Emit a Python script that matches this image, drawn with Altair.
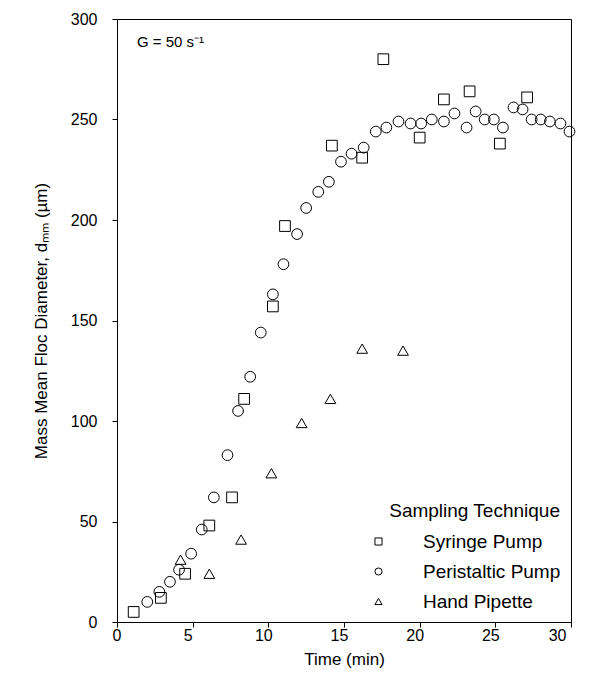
import altair as alt
import pandas as pd

# Syringe Pump (squares)
syr_t = [1.1, 2.9, 4.5, 6.1, 7.6, 8.4, 10.3, 11.1, 14.2, 16.2, 17.6, 20.0, 21.6, 23.3, 25.3, 27.1]
syr_d = [5, 12, 24, 48, 62, 111, 157, 197, 237, 231, 280, 241, 260, 264, 238, 261]

# Peristaltic Pump (circles)
per_t = [2.0, 2.8, 3.5, 4.1, 4.9, 5.6, 6.4, 7.3, 8.0, 8.8, 9.5, 10.3, 11.0, 11.9, 12.5,
         13.3, 14.0, 14.8, 15.5, 16.3, 17.1, 17.8, 18.6, 19.4, 20.1, 20.8, 21.6, 22.3,
         23.1, 23.7, 24.3, 24.9, 25.5, 26.2, 26.8, 27.4, 28.0, 28.6, 29.3, 29.9]
per_d = [10, 15, 20, 26, 34, 46, 62, 83, 105, 122, 144, 163, 178, 193, 206,
         214, 219, 229, 233, 236, 244, 246, 249, 248, 248, 250, 249, 253,
         246, 254, 250, 250, 246, 256, 255, 250, 250, 249, 248, 244]

# Hand Pipette (triangles)
pip_t = [4.2, 6.1, 8.2, 10.2, 12.2, 14.1, 16.2, 18.9]
pip_d = [31, 24, 41, 74, 99, 111, 136, 135]

techniques = ["Syringe Pump", "Peristaltic Pump", "Hand Pipette"]
shapes = ["square", "circle", "triangle-up"]
annotation = ["G = 50 s\u207b\u00b9"]

x_ticks = [0, 5, 10, 15, 20, 25, 30]
y_ticks = [0, 50, 100, 150, 200, 250, 300]

rows = []
for t, d in zip(syr_t, syr_d):
    rows.append({"t": t, "d": d, "tech": techniques[0]})
for t, d in zip(per_t, per_d):
    rows.append({"t": t, "d": d, "tech": techniques[1]})
for t, d in zip(pip_t, pip_d):
    rows.append({"t": t, "d": d, "tech": techniques[2]})
df = pd.DataFrame(rows)

FONT = "Liberation Sans"

points = alt.Chart(df).mark_point(filled=False, color="black", strokeWidth=1, size=115, opacity=1).encode(
    x=alt.X("t:Q", scale=alt.Scale(domain=[0, 30], nice=False),
            axis=alt.Axis(title="Time (min)", values=x_ticks, labelOffset=-5, labelPadding=0,
                          titlePadding=8, tickSize=5)),
    y=alt.Y("d:Q", scale=alt.Scale(domain=[0, 300], nice=False),
            axis=alt.Axis(title="Mass Mean Floc Diameter, d\u2098\u2098 (\u00b5m)", values=y_ticks,
                          labelPadding=15, titlePadding=20, tickSize=5)),
    shape=alt.Shape("tech:N", scale=alt.Scale(domain=techniques, range=shapes),
                    legend=alt.Legend(title="Sampling Technique", orient="none",
                                      legendX=252, legendY=483, titleAnchor="end",
                                      symbolSize=50, symbolStrokeColor="black",
                                      symbolStrokeWidth=1, symbolFillColor="white",
                                      labelOffset=35, rowPadding=10, titlePadding=11,
                                      padding=0)),
)

ann = alt.Chart(pd.DataFrame({"txt": annotation})).mark_text(
    align="left", baseline="middle", fontSize=15, font=FONT, color="black"
).encode(x=alt.value(20), y=alt.value(23), text="txt:N")

chart = alt.layer(points, ann).properties(
    width=454, height=603,
    autosize=alt.AutoSizeParams(type="none"),
    padding={"left": 109, "top": 11, "right": 15, "bottom": 50},
).configure_view(stroke="black", strokeWidth=1).configure_axis(
    grid=False, domainColor="black", tickColor="black", labelColor="black", titleColor="black",
    labelFont=FONT, titleFont=FONT, labelFontSize=16, titleFontSize=17, titleFontWeight="normal",
).configure_legend(
    labelFont=FONT, titleFont=FONT, labelFontSize=19, titleFontSize=19, titleFontWeight="normal",
    labelColor="black", titleColor="black", labelLimit=300,
)

chart.save("out.html", embed_options={"renderer": "svg", "actions": False})
